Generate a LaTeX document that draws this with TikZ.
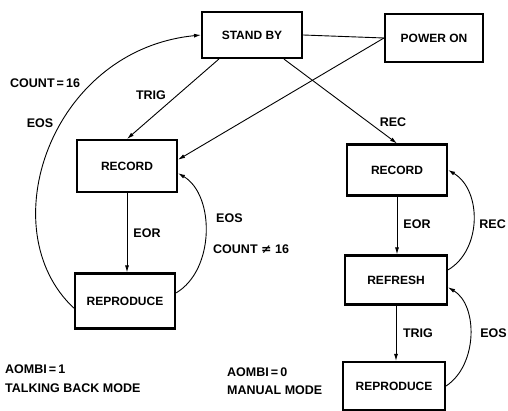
\documentclass[tikz,border=0pt]{standalone}
\usepackage{fontspec}
\setmainfont{Liberation Sans}
\newfontfamily\symfont{DejaVu Sans}
\usetikzlibrary{arrows.meta,calc}
\begin{document}
\begin{tikzpicture}[x=1pt,y=-1pt,
  statebox/.style={draw, line width=2.1pt, inner sep=0pt, font=\fontsize{12}{14}\selectfont\bfseries},
  lbl/.style={inner sep=0pt, font=\fontsize{12.5}{15}\selectfont\bfseries},
  conn/.style={line width=0.9pt},
  arr/.style={conn, -{Latex[length=7pt,width=4pt]}}]
\useasboundingbox (0,0) rectangle (508,411);
% state boxes
\node[statebox, minimum width=100pt, minimum height=46pt] (standby) at (252,35) {STAND BY};
\node[statebox, minimum width=98pt, minimum height=48pt] (poweron) at (434,38) {POWER ON};
\node[statebox, minimum width=100pt, minimum height=52pt] (rec1) at (127,166) {RECORD};
\node[statebox, minimum width=100pt, minimum height=55pt] (rep1) at (125,301) {REPRODUCE};
\node[statebox, minimum width=100pt, minimum height=51pt] (rec2) at (397,170) {RECORD};
\node[statebox, minimum width=102pt, minimum height=49pt] (ref) at (396,280) {REFRESH};
\node[statebox, minimum width=102pt, minimum height=48pt] (rep2) at (394,386) {REPRODUCE};
% connectors
\draw[arr] (standby.216) -- (rec1.north);
\draw[arr] (standby.-37) -- (rec2.north);
\draw[conn] (standby.east) -- (poweron.west);
\draw[arr] (poweron.west) -- (rec1.7);
\draw[arr] (rec1.south) -- (rec1.south |- rep1.north);
\draw[arr] (rec2.south) -- (rec2.south |- ref.north);
\draw[arr] (ref.south) -- (ref.south |- rep2.north);
\draw[arr] (rep1.188) .. controls (-10,230) and (50,50) .. (standby.west);
\draw[arr] (rep1.9) .. controls (215,270) and (215,195) .. (rec1.-8);
\draw[arr] (ref.11) .. controls (482,250) and (482,190) .. (rec2.east);
\draw[arr] (rep2.east) .. controls (478,365) and (478,305) .. (ref.-8);
% labels
\node[lbl, anchor=west] (lcount) at (10,83) {COUNT\,=\,16};
\node[lbl] (leos) at (40,123) {EOS};
\node[lbl] (ltrig) at (151,95) {TRIG};
\node[lbl] (lrec) at (393,122) {REC};
\node[lbl, anchor=west] (leos2) at (216,218) {EOS};
\node[lbl, anchor=west] (lcount2) at (213,249) {COUNT {\symfont\bfseries ≠} 16};
\node[lbl] (leor1) at (147,233) {EOR};
\node[lbl] (leor2) at (417,224) {EOR};
\node[lbl, anchor=east] (lrec2) at (506,224) {REC};
\node[lbl] (ltrig2) at (418,333) {TRIG};
\node[lbl, anchor=east] (leos3) at (507,333) {EOS};
\node[lbl, anchor=west] (ma) at (5,369) {AOMBI\,=\,1};
\node[lbl, anchor=west] (mb) at (5,388) {TALKING BACK MODE};
\node[lbl, anchor=west] (mc) at (227,372) {AOMBI\,=\,0};
\node[lbl, anchor=west] (md) at (227,390) {MANUAL MODE};
\end{tikzpicture}
\end{document}
